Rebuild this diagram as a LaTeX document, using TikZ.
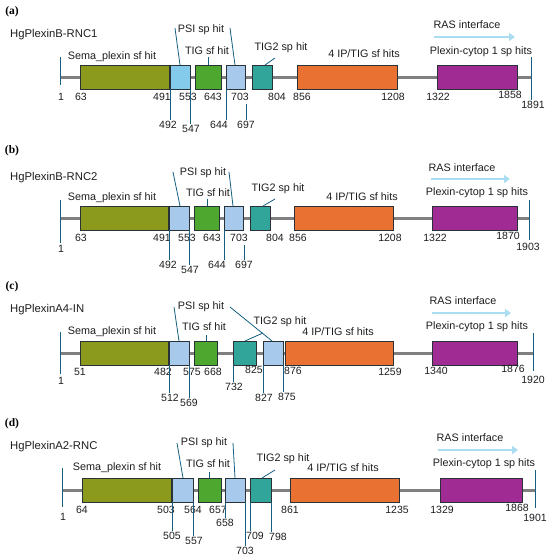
\documentclass[tikz,border=0pt]{standalone}
\usepackage{fontspec}
\setmainfont{Liberation Sans}
\newfontfamily\tagfont{Liberation Serif}
\usetikzlibrary{arrows.meta}
\definecolor{semac}{RGB}{139,154,28}
\definecolor{psisky}{RGB}{131,202,235}
\definecolor{psic}{RGB}{166,201,236}
\definecolor{tigc}{RGB}{78,167,46}
\definecolor{tealc}{RGB}{50,165,155}
\definecolor{orangec}{RGB}{233,113,50}
\definecolor{purplec}{RGB}{160,43,147}
\definecolor{leadc}{RGB}{21,96,130}
\definecolor{bonec}{RGB}{128,128,128}
\definecolor{rasc}{RGB}{170,220,242}
\definecolor{edgec}{RGB}{40,50,55}
\definecolor{txtc}{RGB}{30,30,30}
\newcommand\dbox[5]{\node[dom,fill=#5,minimum width={(#3-#2)*1pt},anchor=west] (#1) at (#2,#4) {};}
\newcommand\lab[4]{\node[txt] (#1) at (#2,#3) {#4};}
\newcommand\num[4]{\node[numtxt] (#1) at (#2,#3) {#4};}
\begin{document}
\begin{tikzpicture}[x=1pt,y=-1pt,
  dom/.style={draw=edgec,line width=0.8pt,minimum height=24pt,inner sep=0pt},
  txt/.style={font=\fontsize{10.8}{12}\selectfont,text=txtc,inner sep=0.5pt},
  numtxt/.style={font=\fontsize{10.5}{12}\selectfont,text=txtc,inner sep=1pt},
  ttl/.style={font=\fontsize{11.3}{13}\selectfont,text=txtc,inner sep=0pt,anchor=west},
  tagl/.style={font=\tagfont\bfseries\fontsize{11.5}{13}\selectfont,text=black,inner sep=0pt},
  lead/.style={draw=leadc,line width=0.8pt},
  bone/.style={draw=bonec,line width=3pt},
  ras/.style={draw=rasc,line width=2.6pt,-{Triangle[length=6pt,width=8pt]}}]
\useasboundingbox (0,0) rectangle (550,560);
\fill[white] (0,0) rectangle (550,560);

% ================= (a) =================
\node[tagl] (a-tag) at (12,12) {(a)};
\node[ttl] (a-name) at (10,35) {HgPlexinB-RNC1};
\coordinate (a-st) at (60,57); \coordinate (a-sb) at (60,85);
\coordinate (a-et) at (531,57); \coordinate (a-eb) at (531,100);
\coordinate (a-b0) at (60,77); \coordinate (a-b1) at (531,77);
\draw[bone] (a-b0) -- (a-b1);
\draw[lead] (a-st) -- (a-sb);
\draw[lead] (a-et) -- (a-eb);
\dbox{a-sema}{80}{169}{77}{semac}
\dbox{a-psi1}{170}{190}{77}{psisky}
\dbox{a-tig}{195}{221}{77}{tigc}
\dbox{a-psi2}{226}{245}{77}{psic}
\dbox{a-teal}{252}{272}{77}{tealc}
\dbox{a-or}{297}{397}{77}{orangec}
\dbox{a-pu}{437}{517}{77}{purplec}
\num{a-n1}{61}{97}{1}
\num{a-n1891}{533}{105}{1891}
\num{a-n63}{81}{97}{63}
\num{a-n491}{162}{97}{491}
\num{a-n553}{188}{97}{553}
\num{a-n643}{213}{97}{643}
\num{a-n703}{240}{97}{703}
\num{a-n804}{277}{97}{804}
\num{a-n856}{302}{97}{856}
\num{a-n1208}{393}{97}{1208}
\num{a-n1322}{438}{97}{1322}
\num{a-n1858}{510}{95}{1858}
\num{a-n492}{168}{125}{492}
\num{a-n547}{191}{129}{547}
\num{a-n644}{219}{125}{644}
\num{a-n697}{246}{125}{697}
\draw[lead] (a-psi1.south west) -- (a-psi1.south west |- a-n492.north);
\draw[lead] (a-psi1.south east) -- (a-psi1.south east |- a-n547.north);
\draw[lead] (a-psi2.south west) -- (a-psi2.south west |- a-n644.north);
\coordinate (a-l697) at (246,104);
\draw[lead] (a-l697) -- (a-n697.north);
\lab{a-psil}{201}{30}{PSI sp hit}
\lab{a-tigl}{207}{51}{TIG sf hit}
\lab{a-teall}{281}{48}{TIG2 sp hit}
\lab{a-semal}{112}{57}{Sema\_plexin sf hit}
\lab{a-orl}{364}{54}{4 IP/TIG sf hits}
\lab{a-pul}{481}{52}{Plexin-cytop 1 sp hits}
\lab{a-rasl}{467}{25}{RAS interface}
\coordinate (a-p1a) at (175,28); \coordinate (a-p1b) at (180,65);
\coordinate (a-p2a) at (230,28); \coordinate (a-p2b) at (235,65);
\draw[lead] (a-p1a) -- (a-p1b);
\draw[lead] (a-p2a) -- (a-p2b);
\draw[lead] (a-tig.north -| 208,0) -- (208,57);
\coordinate (a-t2a) at (265,65); \coordinate (a-t2b) at (275,58);
\draw[lead] (a-t2a) -- (a-t2b);
\coordinate (a-r0) at (434,37); \coordinate (a-r1) at (515,37);
\draw[ras] (a-r0) -- (a-r1);

% ================= (b) =================
\node[tagl] (b-tag) at (12,151) {(b)};
\node[ttl] (b-name) at (10,178) {HgPlexinB-RNC2};
\coordinate (b-st) at (60,200); \coordinate (b-sb) at (60,243);
\coordinate (b-et) at (529,200); \coordinate (b-eb) at (529,240);
\coordinate (b-b0) at (60,218); \coordinate (b-b1) at (529,218);
\draw[bone] (b-b0) -- (b-b1);
\draw[lead] (b-st) -- (b-sb);
\draw[lead] (b-et) -- (b-eb);
\dbox{b-sema}{80}{168}{218}{semac}
\dbox{b-psi1}{169}{189}{218}{psic}
\dbox{b-tig}{194}{219}{218}{tigc}
\dbox{b-psi2}{224}{243}{218}{psic}
\dbox{b-teal}{250}{270}{218}{tealc}
\dbox{b-or}{294}{393}{218}{orangec}
\dbox{b-pu}{432}{517}{218}{purplec}
\num{b-n1}{61}{249}{1}
\num{b-n1903}{528}{247}{1903}
\num{b-n63}{81}{238}{63}
\num{b-n491}{162}{238}{491}
\num{b-n553}{187}{238}{553}
\num{b-n643}{212}{238}{643}
\num{b-n703}{239}{238}{703}
\num{b-n804}{275}{238}{804}
\num{b-n856}{298}{238}{856}
\num{b-n1208}{390}{238}{1208}
\num{b-n1322}{435}{238}{1322}
\num{b-n1870}{508}{236}{1870}
\num{b-n492}{168}{265}{492}
\num{b-n547}{190}{270}{547}
\num{b-n644}{217}{265}{644}
\num{b-n697}{244}{265}{697}
\draw[lead] (b-psi1.south west) -- (b-psi1.south west |- b-n492.north);
\draw[lead] (b-psi1.south east) -- (b-psi1.south east |- b-n547.north);
\draw[lead] (b-psi2.south west) -- (b-psi2.south west |- b-n644.north);
\coordinate (b-l697) at (244,245);
\draw[lead] (b-l697) -- (b-n697.north);
\lab{b-psil}{203}{173}{PSI sp hit}
\lab{b-tigl}{208}{193}{TIG sf hit}
\lab{b-teall}{278}{189}{TIG2 sp hit}
\lab{b-semal}{112}{198}{Sema\_plexin sf hit}
\lab{b-orl}{362}{197}{4 IP/TIG sf hits}
\lab{b-pul}{477}{193}{Plexin-cytop 1 sp hits}
\lab{b-rasl}{462}{168}{RAS interface}
\coordinate (b-p1a) at (173,172); \coordinate (b-p1b) at (180,206);
\coordinate (b-p2a) at (229,172); \coordinate (b-p2b) at (233,206);
\draw[lead] (b-p1a) -- (b-p1b);
\draw[lead] (b-p2a) -- (b-p2b);
\draw[lead] (b-tig.north -| 207,0) -- (207,199);
\coordinate (b-t2a) at (263,206); \coordinate (b-t2b) at (275,199);
\draw[lead] (b-t2a) -- (b-t2b);
\coordinate (b-r0) at (431,179); \coordinate (b-r1) at (510,179);
\draw[ras] (b-r0) -- (b-r1);

% ================= (c) =================
\node[tagl] (c-tag) at (12,287) {(c)};
\node[ttl] (c-name) at (10,310) {HgPlexinA4-IN};
\coordinate (c-st) at (60,332); \coordinate (c-sb) at (60,374);
\coordinate (c-et) at (533,333); \coordinate (c-eb) at (533,371);
\coordinate (c-b0) at (60,353); \coordinate (c-b1) at (533,353);
\draw[bone] (c-b0) -- (c-b1);
\draw[lead] (c-st) -- (c-sb);
\draw[lead] (c-et) -- (c-eb);
\dbox{c-sema}{80}{168}{353}{semac}
\dbox{c-psi1}{169}{189}{353}{psic}
\dbox{c-tig}{194}{217}{353}{tigc}
\dbox{c-teal}{233}{256}{353}{tealc}
\dbox{c-psi2}{263}{283}{353}{psic}
\dbox{c-or}{285}{393}{353}{orangec}
\dbox{c-pu}{432}{517}{353}{purplec}
\num{c-n1}{61}{381}{1}
\num{c-n1920}{533}{380}{1920}
\num{c-n51}{80}{372}{51}
\num{c-n482}{163}{372}{482}
\num{c-n575}{192}{372}{575}
\num{c-n668}{213}{372}{668}
\num{c-n825}{254}{370}{825}
\num{c-n876}{293}{371}{876}
\num{c-n1259}{390}{372}{1259}
\num{c-n1340}{436}{371}{1340}
\num{c-n1876}{513}{369}{1876}
\num{c-n512}{170}{398}{512}
\num{c-n569}{189}{403}{569}
\num{c-n732}{234}{387}{732}
\num{c-n827}{264}{398}{827}
\num{c-n875}{287}{397}{875}
\draw[lead] (c-psi1.south west) -- (c-psi1.south west |- c-n512.north);
\draw[lead] (c-psi1.south east) -- (c-psi1.south east |- c-n569.north);
\draw[lead] (c-teal.south west) -- (c-teal.south west |- c-n732.north);
\draw[lead] (c-psi2.south west) -- (c-psi2.south west |- c-n827.north);
\draw[lead] (c-psi2.south east) -- (c-psi2.south east |- c-n875.north);
\lab{c-psil}{201}{307}{PSI sp hit}
\lab{c-tigl}{204}{327}{TIG sf hit}
\lab{c-teall}{280}{322}{TIG2 sp hit}
\lab{c-semal}{112}{332}{Sema\_plexin sf hit}
\lab{c-orl}{338}{332}{4 IP/TIG sf hits}
\lab{c-pul}{477}{327}{Plexin-cytop 1 sp hits}
\lab{c-rasl}{463}{301}{RAS interface}
\coordinate (c-p1a) at (174,307); \coordinate (c-p1b) at (179,341);
\coordinate (c-p2a) at (230,307); \coordinate (c-p2b) at (272,341);
\draw[lead] (c-p1a) -- (c-p1b);
\draw[lead] (c-p2a) -- (c-p2b);
\draw[lead] (c-tig.north -| 206,0) -- (206,335);
\coordinate (c-t2a) at (245,341); \coordinate (c-t2b) at (263,333);
\draw[lead] (c-t2a) -- (c-t2b);
\coordinate (c-r0) at (432,313); \coordinate (c-r1) at (511,313);
\draw[ras] (c-r0) -- (c-r1);

% ================= (d) =================
\node[tagl] (d-tag) at (12,424) {(d)};
\node[ttl] (d-name) at (10,447) {HgPlexinA2-RNC};
\coordinate (d-st) at (62,468); \coordinate (d-sb) at (62,507);
\coordinate (d-et) at (535,470); \coordinate (d-eb) at (535,508);
\coordinate (d-b0) at (62,490); \coordinate (d-b1) at (535,490);
\draw[bone] (d-b0) -- (d-b1);
\draw[lead] (d-st) -- (d-sb);
\draw[lead] (d-et) -- (d-eb);
\dbox{d-sema}{82}{171}{490}{semac}
\dbox{d-psi1}{172}{193}{490}{psic}
\dbox{d-tig}{198}{221}{490}{tigc}
\dbox{d-psi2}{225}{245}{490}{psic}
\dbox{d-teal}{250}{271}{490}{tealc}
\dbox{d-or}{290}{399}{490}{orangec}
\dbox{d-pu}{440}{522}{490}{purplec}
\num{d-n1}{63}{517}{1}
\num{d-n1901}{535}{518}{1901}
\num{d-n64}{82}{510}{64}
\num{d-n503}{166}{510}{503}
\num{d-n564}{193}{510}{564}
\num{d-n657}{218}{510}{657}
\num{d-n861}{290}{510}{861}
\num{d-n1235}{397}{510}{1235}
\num{d-n1329}{442}{510}{1329}
\num{d-n1868}{517}{508}{1868}
\num{d-n505}{172}{536}{505}
\num{d-n557}{194}{541}{557}
\num{d-n658}{225}{523}{658}
\num{d-n703}{245}{551}{703}
\num{d-n709}{255}{536}{709}
\num{d-n798}{278}{537}{798}
\draw[lead] (d-psi1.south west) -- (d-psi1.south west |- d-n505.north);
\draw[lead] (d-psi1.south east) -- (d-psi1.south east |- d-n557.north);
\draw[lead] (d-psi2.south west) -- (d-psi2.south west |- d-n658.north);
\draw[lead] (d-psi2.south east) -- (d-psi2.south east |- d-n703.north);
\draw[lead] (d-teal.south west) -- (d-teal.south west |- d-n709.north);
\draw[lead] (d-teal.south east) -- (d-teal.south east |- d-n798.north);
\lab{d-psil}{204}{443}{PSI sp hit}
\lab{d-tigl}{208}{464}{TIG sf hit}
\lab{d-teall}{283}{459}{TIG2 sp hit}
\lab{d-semal}{117}{468}{Sema\_plexin sf hit}
\lab{d-orl}{343}{468}{4 IP/TIG sf hits}
\lab{d-pul}{484}{464}{Plexin-cytop 1 sp hits}
\lab{d-rasl}{470}{438}{RAS interface}
\coordinate (d-p1a) at (177,443); \coordinate (d-p1b) at (183,478);
\coordinate (d-p2a) at (233,443); \coordinate (d-p2b) at (235,478);
\draw[lead] (d-p1a) -- (d-p1b);
\draw[lead] (d-p2a) -- (d-p2b);
\draw[lead] (d-tig.north -| 209,0) -- (209,472);
\coordinate (d-t2a) at (262,478); \coordinate (d-t2b) at (275,470);
\draw[lead] (d-t2a) -- (d-t2b);
\coordinate (d-r0) at (438,450); \coordinate (d-r1) at (518,450);
\draw[ras] (d-r0) -- (d-r1);
\end{tikzpicture}
\end{document}
